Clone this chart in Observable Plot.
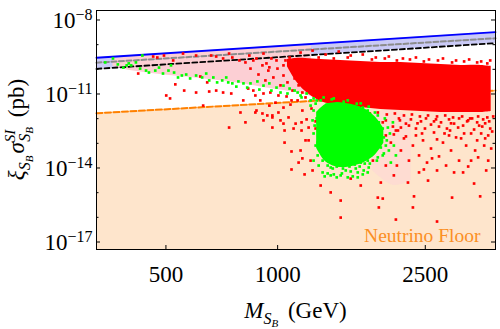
<!DOCTYPE html>
<html><head><meta charset="utf-8">
<script src="https://cdn.jsdelivr.net/npm/d3@7"></script>
<script src="https://cdn.jsdelivr.net/npm/@observablehq/plot@0.6"></script>
<style>body{margin:0;background:#fff}</style>
</head><body><div id="chart"></div>
<script>
// ---- axis / tick values ----
const xTickValues = [500, 1000, 2500];
const yLabelExp = [-8, -11, -14, -17];
const yMinorExp = [-9, -10, -12, -13, -15, -16];
const xDomain = [325, 3865];
const yDomainExp = [-17.304, -7.615];

// ---- limit lines (mass in GeV, log10 of cross section in pb) ----
const lineMass = [325, 3865];
const blueLimit = [-9.53, -8.49];
const grayLimit = [-9.73, -8.74];
const blackLimit = [-9.98, -8.94];
const neutrinoFloor = [-11.78, -10.86];

// ---- dense regions of the scan (envelopes, log10 sigma) ----
const pinkMass = [360, 400, 482, 619, 794, 956, 1153, 1233];
const pinkTop = [-9.58, -9.50, -9.40, -9.30, -9.20, -9.14, -9.07, -9.07];
const pinkBottom = [-9.88, -10.05, -10.21, -10.37, -10.57, -10.78, -10.98, -11.10];

const pinkMass2 = [1800, 2060, 2290];
const pinkTop2 = [-11.87, -11.59, -12.07];
const pinkBottom2 = [-14.10, -14.71, -14.51];

const redCoreMass = [1063, 1118, 1189, 1306, 1479, 1675, 1897, 2149, 2434, 2756, 3122, 3536, 3763];
const redCoreTop = [-9.60, -9.56, -9.56, -9.60, -9.64, -9.68, -9.72, -9.72, -9.76, -9.80, -9.84, -9.84, -9.88];
const redCoreBottom = [-9.90, -10.45, -10.90, -11.30, -11.47, -11.55, -11.63, -11.67, -11.71, -11.75, -11.75, -11.75, -11.71];

const greenCoreMass = [1274, 1347, 1434, 1526, 1624, 1728, 1839, 1933];
const greenCoreTop = [-11.75, -11.43, -11.35, -11.39, -11.47, -11.63, -11.95, -12.40];
const greenCoreBottom = [-13.20, -13.75, -13.95, -13.98, -13.90, -13.75, -13.45, -13.00];

// ---- individual scan points [mass GeV, log10 sigma] ----
const redPoints = [
[462,-9.48],[474,-9.52],[494,-9.44],[523,-9.64],[556,-9.36],[603,-9.44],[662,-9.44],[683,-9.48],
[713,-9.56],[740,-9.36],[755,-9.52],[789,-9.64],[839,-9.44],[860,-9.64],[916,-9.36],[933,-9.76],
[950,-9.92],[993,-9.64],[1037,-9.84],[1077,-9.52],[1104,-10.05],
[421,-10.17],[530,-10.61],[501,-11.06],[513,-11.18],[560,-10.86],[603,-10.94],[630,-11.47],[654,-10.90],
[683,-10.86],[713,-10.94],[750,-10.98],[808,-11.26],[860,-10.86],[916,-10.98],[950,-11.47],[1005,-11.06],
[1037,-11.55],[1090,-11.26],[877,-11.67],[740,-12.36],[916,-12.07],[968,-11.95],[1037,-12.20],[1005,-11.75],
[619,-10.29],[646,-10.53],
[794,-11.75],[819,-12.15],[871,-11.75],[910,-11.79],[938,-11.87],[968,-11.87],[1018,-12.07],[1070,-11.95],
[1118,-12.20],[1160,-12.15],[968,-12.36],[1044,-12.48],[1104,-12.40],[1160,-12.48],[1212,-12.36],
[1044,-12.97],[1090,-13.33],[1139,-13.78],[1090,-14.06],[1182,-14.26],[1390,-14.99],[1479,-15.32],
[1479,-16.01],[1862,-15.20],[1920,-15.24],[1874,-15.60],[2083,-16.09],[2331,-15.15],[2315,-15.60],
[2689,-16.17],[2952,-15.20],[3514,-15.15],[3384,-14.63],[3694,-13.70],[2543,-14.51],[2245,-14.59],
[1897,-14.59],[2478,-14.06],[2689,-14.10],[2989,-14.18],[3262,-13.94],[3470,-13.57],[3603,-13.09],[3536,-12.60],
[1957,-12.68],[2019,-12.97],[2083,-12.48],[2149,-13.29],[2190,-12.80],[2259,-13.70],[2315,-13.09],[2359,-12.40],
[2405,-13.49],[2465,-12.88],[2527,-13.78],[2590,-13.21],[2639,-12.56],[2722,-13.53],[2790,-12.97],[2860,-12.40],
[2933,-13.29],[3026,-12.76],[3083,-13.70],[3161,-12.28],[3221,-13.09],[3322,-12.60],[3406,-13.29],[3492,-12.28],
[3625,-12.80],[3740,-12.40],[3763,-13.21],[1839,-13.09],[1806,-13.70],[1957,-13.90],[2057,-14.30],[1675,-14.71],
[1574,-14.43],[1306,-14.71],[1227,-13.70],[1189,-12.88],[1153,-13.29],[1266,-12.40],
[1306,-11.95],[1390,-12.07],[1526,-11.99],[1624,-12.15],[1728,-12.03],[1839,-12.24],[1957,-12.07],[2045,-12.32],
[2123,-11.99],[2217,-12.20],[2287,-12.03],[2434,-12.11],[2511,-11.99],[2590,-12.24],[2672,-12.03],[2756,-12.15],
[2897,-12.03],[2989,-12.20],[3083,-11.99],[3241,-12.11],[3343,-11.99],[3449,-12.15],[3580,-12.03],[3717,-12.11],
[2359,-12.68],[2817,-12.60],[3122,-12.80],[2149,-12.36],[1897,-12.48],[1760,-12.52],
[1153,-9.32],[1242,-9.24],[1347,-9.40],[1461,-9.28],[1574,-9.44],[1696,-9.40],[1839,-9.52],[1994,-9.48],
[2176,-9.56],[2359,-9.52],[2558,-9.60],[2790,-9.56],[3026,-9.64],[3282,-9.60],[3536,-9.68],[3740,-9.64],
[1166,-11.67],[1234,-11.59],[1298,-11.71],[1364,-11.63],[1434,-11.75],[1517,-11.67],[1594,-11.79],[1685,-11.71],
[1772,-11.79],[1862,-11.75],[1969,-11.83],[2070,-11.79],[2190,-11.87],[2301,-11.83],[2418,-11.91],[2543,-11.87],
[2689,-11.91],[2829,-11.87],[2970,-11.95],[3142,-11.91],[3302,-11.99],[3470,-11.91],[3673,-11.95],[3810,-11.91],
[1197,-12.03],[1266,-12.11],[1399,-12.07],[1550,-12.15],[1728,-12.11],[1920,-12.15],[2136,-12.07],[2382,-12.19],
[2639,-12.11],[2933,-12.19],[3262,-12.07],[3625,-12.19],
[1290,-12.32],[1500,-12.44],[1851,-12.36],[2110,-12.48],[2259,-12.28],[2495,-12.40],[2722,-12.32],[2915,-12.48],
[3065,-12.36],[3384,-12.44],[3560,-12.32],[3786,-12.52],
[2057,-12.64],[2217,-12.72],[2450,-12.60],[2689,-12.84],[2897,-12.68],[3181,-12.60],[3449,-12.88],[3694,-12.68],
[1290,-9.52],[1417,-9.56],[1545,-9.52],[1795,-9.60],[1945,-9.56],[2096,-9.64],[2273,-9.60],[2478,-9.68],
[2705,-9.64],[2952,-9.72],[3181,-9.68],[3449,-9.72],[3673,-9.76],
[819,-9.72],[845,-9.97],[877,-9.56],[888,-10.21],[910,-9.84],[927,-10.45],[944,-10.05],[962,-9.56],
[974,-10.33],[999,-9.97],[1018,-10.65],[1037,-10.25],[1050,-9.64],[1063,-10.53],[1083,-9.93],[1097,-10.86],
[1111,-10.37],[1125,-9.72],[1139,-10.65],[1153,-10.13],[1166,-10.94],[1182,-10.45],[1132,-11.26],[1083,-11.43],
[1189,-11.14],[1227,-10.94],[1242,-10.65],[1266,-11.06],[833,-10.78],[871,-11.06],[898,-11.26],[956,-10.94],
[987,-11.35],[1057,-11.10],
[2096,-13.90],[2405,-14.18],[2844,-13.90],[3161,-14.18],[3648,-14.10],[2607,-13.61],[3322,-13.70],
[1212,-12.88],[1242,-14.10],[1166,-13.61]
];
const greenPoints = [
[360,-9.56],[384,-9.93],[392,-9.84],[432,-9.44],[397,-9.76],[403,-9.84],[415,-9.72],[442,-10.05],
[450,-10.13],[479,-9.93],[491,-10.17],[516,-9.84],[526,-10.13],[552,-10.25],[567,-10.21],[603,-10.25],
[626,-10.33],[642,-10.17],[671,-10.33],[687,-10.53],[709,-10.45],[736,-10.53],[755,-10.57],[784,-10.49],
[809,-10.57],[845,-10.57],[882,-10.49],[916,-10.66],[950,-10.57],[993,-10.74],[1037,-10.66],[1077,-10.78],
[1111,-10.86],[1132,-10.94],[1160,-11.14],[1227,-11.26],[343,-9.72],[371,-9.80],
[426,-9.97],[468,-10.05],[508,-10.05],[539,-10.33],[581,-10.37],[654,-10.45],[727,-10.33],[774,-10.70],
[828,-10.74],[893,-10.82],[962,-10.86],[1018,-10.94],[1063,-10.98],[1153,-11.06],[1197,-10.98],
[1250,-11.18],[1227,-11.47],[1250,-11.67],[1242,-12.07],[1250,-12.60],[1282,-12.97],[1250,-13.70],[1322,-13.37],
[1322,-14.18],[1364,-14.22],[1417,-14.26],[1479,-14.30],[1545,-14.38],[1594,-14.34],[1644,-14.18],[1706,-14.10],
[1760,-13.98],[1862,-13.57],[1897,-13.17],[1933,-12.76],[1982,-12.36],[2045,-12.15],[1897,-12.48],[1815,-12.20],
[1862,-11.87],[1749,-11.67],[1675,-11.38],[1545,-11.26],[1417,-11.18],[1330,-11.14],[1815,-12.76],[1783,-13.29],
[1675,-13.78],[1390,-13.98],[1461,-13.78],[1749,-13.70],[1933,-13.41],[2019,-13.78],[1293,-12.40],[1274,-11.26],
[1306,-11.75],[1356,-13.61],[1624,-14.02],[1526,-14.10],[1851,-12.97],[1957,-13.09],
[1266,-11.39],[1306,-11.26],[1356,-11.43],[1399,-11.22],[1452,-11.39],[1507,-11.31],[1574,-11.47],[1634,-11.39],
[1696,-11.55],[1760,-11.51],[1829,-11.75],[1290,-11.87],[1258,-12.28],
[1274,-11.99],[1298,-12.68],[1266,-13.09],[1306,-13.29],[1282,-13.49],[1322,-13.70],[1290,-13.90],[1347,-13.09],
[1364,-13.90],[1408,-14.02],[1443,-13.94],[1500,-14.02],[1562,-13.94],[1614,-13.86],[1664,-13.94],[1717,-13.82],
[1390,-14.30],[1443,-14.38],[1490,-14.22],[1574,-14.14],[1644,-14.38],[1696,-14.26],[1339,-14.34],[1749,-14.18],
[1806,-11.99],[1874,-12.15],[1945,-11.99],[1839,-12.48],[1920,-12.40],[2007,-12.60],[1795,-12.88],[1886,-13.01],
[1969,-12.88],[1829,-13.21],[1920,-13.49],[1994,-13.29],[1783,-13.49],[1851,-13.70],[1772,-13.82],[2057,-13.09],
[2083,-13.49]
];

// ---- build tables ----
const p10 = v => Math.pow(10, v);
const lines = lineMass.map((m, i) => ({m, blue: p10(blueLimit[i]), gray: p10(grayLimit[i]), black: p10(blackLimit[i]), floor: p10(neutrinoFloor[i])}));
const env = (ms, tops, bots) => ms.map((m, i) => ({m, top: p10(tops[i]), bot: p10(bots[i])}));
const pink = env(pinkMass, pinkTop, pinkBottom);
const pink2 = env(pinkMass2, pinkTop2, pinkBottom2);
const redCore = env(redCoreMass, redCoreTop, redCoreBottom);
const greenCore = env(greenCoreMass, greenCoreTop, greenCoreBottom);
const red = redPoints.map(([m, l]) => ({m, s: p10(l)}));
const green = greenPoints.map(([m, l]) => ({m, s: p10(l)}));
const yMin = p10(yDomainExp[0]);

const W = 500, H = 329, mL = 96, mR = 5, mT = 10, mB = 80;
const pw = W - mL - mR, ph = H - mT - mB;
const FONT = "Liberation Serif";

const plot = Plot.plot({
  width: W, height: H,
  marginLeft: mL, marginRight: mR, marginTop: mT, marginBottom: mB,
  style: {fontFamily: FONT, background: "white"},
  x: {type: "log", domain: xDomain, axis: null},
  y: {type: "log", domain: yDomainExp.map(p10), axis: null},
  marks: [
    Plot.areaY(lines, {x: "m", y1: yMin, y2: "floor", fill: "#fee5cc"}),
    Plot.line(lines, {x: "m", y: "floor", stroke: "#ff8000", strokeWidth: 2, strokeDasharray: "6,2.5"}),
    Plot.areaY(lines, {x: "m", y1: "black", y2: "blue", fill: "#cacaf6"}),
    Plot.areaY(pink, {x: "m", y1: "bot", y2: "top", fill: "#fccfd4", curve: "catmull-rom"}),
    Plot.areaY(pink2, {x: "m", y1: "bot", y2: "top", fill: "#fdd4d7", fillOpacity: 0.5, curve: "catmull-rom"}),
    Plot.line(lines, {x: "m", y: "blue", stroke: "#0000ff", strokeWidth: 1.8}),
    Plot.line(lines, {x: "m", y: "gray", stroke: "#8c8c8c", strokeWidth: 2, strokeDasharray: "5,2.5"}),
    Plot.line(lines, {x: "m", y: "black", stroke: "#000000", strokeWidth: 1.8, strokeDasharray: "5,3"}),
    Plot.areaY(redCore, {x: "m", y1: "bot", y2: "top", fill: "#ff0000", curve: "catmull-rom"}),
    Plot.dot(red, {x: "m", y: "s", symbol: "square", r: 1.5, fill: "#ff0000"}),
    Plot.areaY(greenCore, {x: "m", y1: "bot", y2: "top", fill: "#00ff00", curve: "catmull-rom"}),
    Plot.dot(green, {x: "m", y: "s", symbol: "square", r: 1.5, fill: "#00ff00"}),
    Plot.text(["Neutrino Floor"], {frameAnchor: "bottom-right", dx: -15, dy: -14, textAnchor: "end", lineAnchor: "middle", text: d => d, fill: "#fb8f24", fontSize: 19.5}),
    Plot.frame({stroke: "black", strokeWidth: 1}),
    Plot.tickY(yLabelExp, {y: d => p10(d), insetRight: pw - 4, stroke: "black"}),
    Plot.tickY(yLabelExp, {y: d => p10(d), insetLeft: pw - 4, stroke: "black"}),
    Plot.tickY(yMinorExp, {y: d => p10(d), insetRight: pw - 2.5, stroke: "black"}),
    Plot.tickY(yMinorExp, {y: d => p10(d), insetLeft: pw - 2.5, stroke: "black"}),
    Plot.tickX(xTickValues, {x: d => d, insetTop: ph - 4, stroke: "black"}),
    Plot.text(xTickValues, {x: d => d, frameAnchor: "bottom", dy: 25, lineAnchor: "middle", text: d => String(d), fontSize: 23, fill: "black"}),
    Plot.text(yLabelExp, {y: d => p10(d), frameAnchor: "left", dx: -4, dy: 1, textAnchor: "end", lineAnchor: "middle", text: d => "10^" + String(d).replace("-", "\u2212"), fontSize: 23, fill: "black"})
  ]
});

// superscripts on tick labels
const NS = "http://www.w3.org/2000/svg";
for (const t of plot.querySelectorAll("text")) {
  const s = t.textContent;
  if (s.includes("^")) {
    const [b, e] = s.split("^");
    t.textContent = b;
    const ts = document.createElementNS(NS, "tspan");
    ts.setAttribute("dy", "-8");
    ts.setAttribute("font-size", "16");
    ts.textContent = e;
    t.appendChild(ts);
  }
}

const svg = d3.select(plot);
// x title
const xt = svg.append("text").attr("x", mL + pw / 2).attr("y", 318).attr("text-anchor", "middle")
  .attr("font-family", FONT).attr("font-size", 23).attr("fill", "black");
xt.append("tspan").attr("font-style", "italic").text("M");
xt.append("tspan").attr("font-style", "italic").attr("font-size", 16).attr("dy", 6).text("S");
xt.append("tspan").attr("font-style", "italic").attr("font-size", 11).attr("dy", 3).text("B");
xt.append("tspan").attr("dy", -9).attr("dx", 4).text(" (GeV)");

// y title
const yt = svg.append("text").attr("transform", `translate(24,${mT + ph / 2}) rotate(-90)`).attr("text-anchor", "middle")
  .attr("font-family", FONT).attr("font-size", 23).attr("fill", "black");
yt.append("tspan").attr("font-style", "italic").text("\u03BE");
yt.append("tspan").attr("font-style", "italic").attr("font-size", 16).attr("dy", 6).text("S");
yt.append("tspan").attr("font-style", "italic").attr("font-size", 11).attr("dy", 3).text("B");
yt.append("tspan").attr("font-style", "italic").attr("dy", -9).attr("dx", 2).text("\u03C3");
yt.append("tspan").attr("font-style", "italic").attr("font-size", 15).attr("dy", -9).text("SI");
yt.append("tspan").attr("font-style", "italic").attr("font-size", 16).attr("dx", -12).attr("dy", 15).text("S");
yt.append("tspan").attr("font-style", "italic").attr("font-size", 11).attr("dy", 3).text("B");
yt.append("tspan").attr("dy", -9).attr("dx", 4).text(" (pb)");

document.getElementById("chart").appendChild(plot);
</script>
</body></html>
